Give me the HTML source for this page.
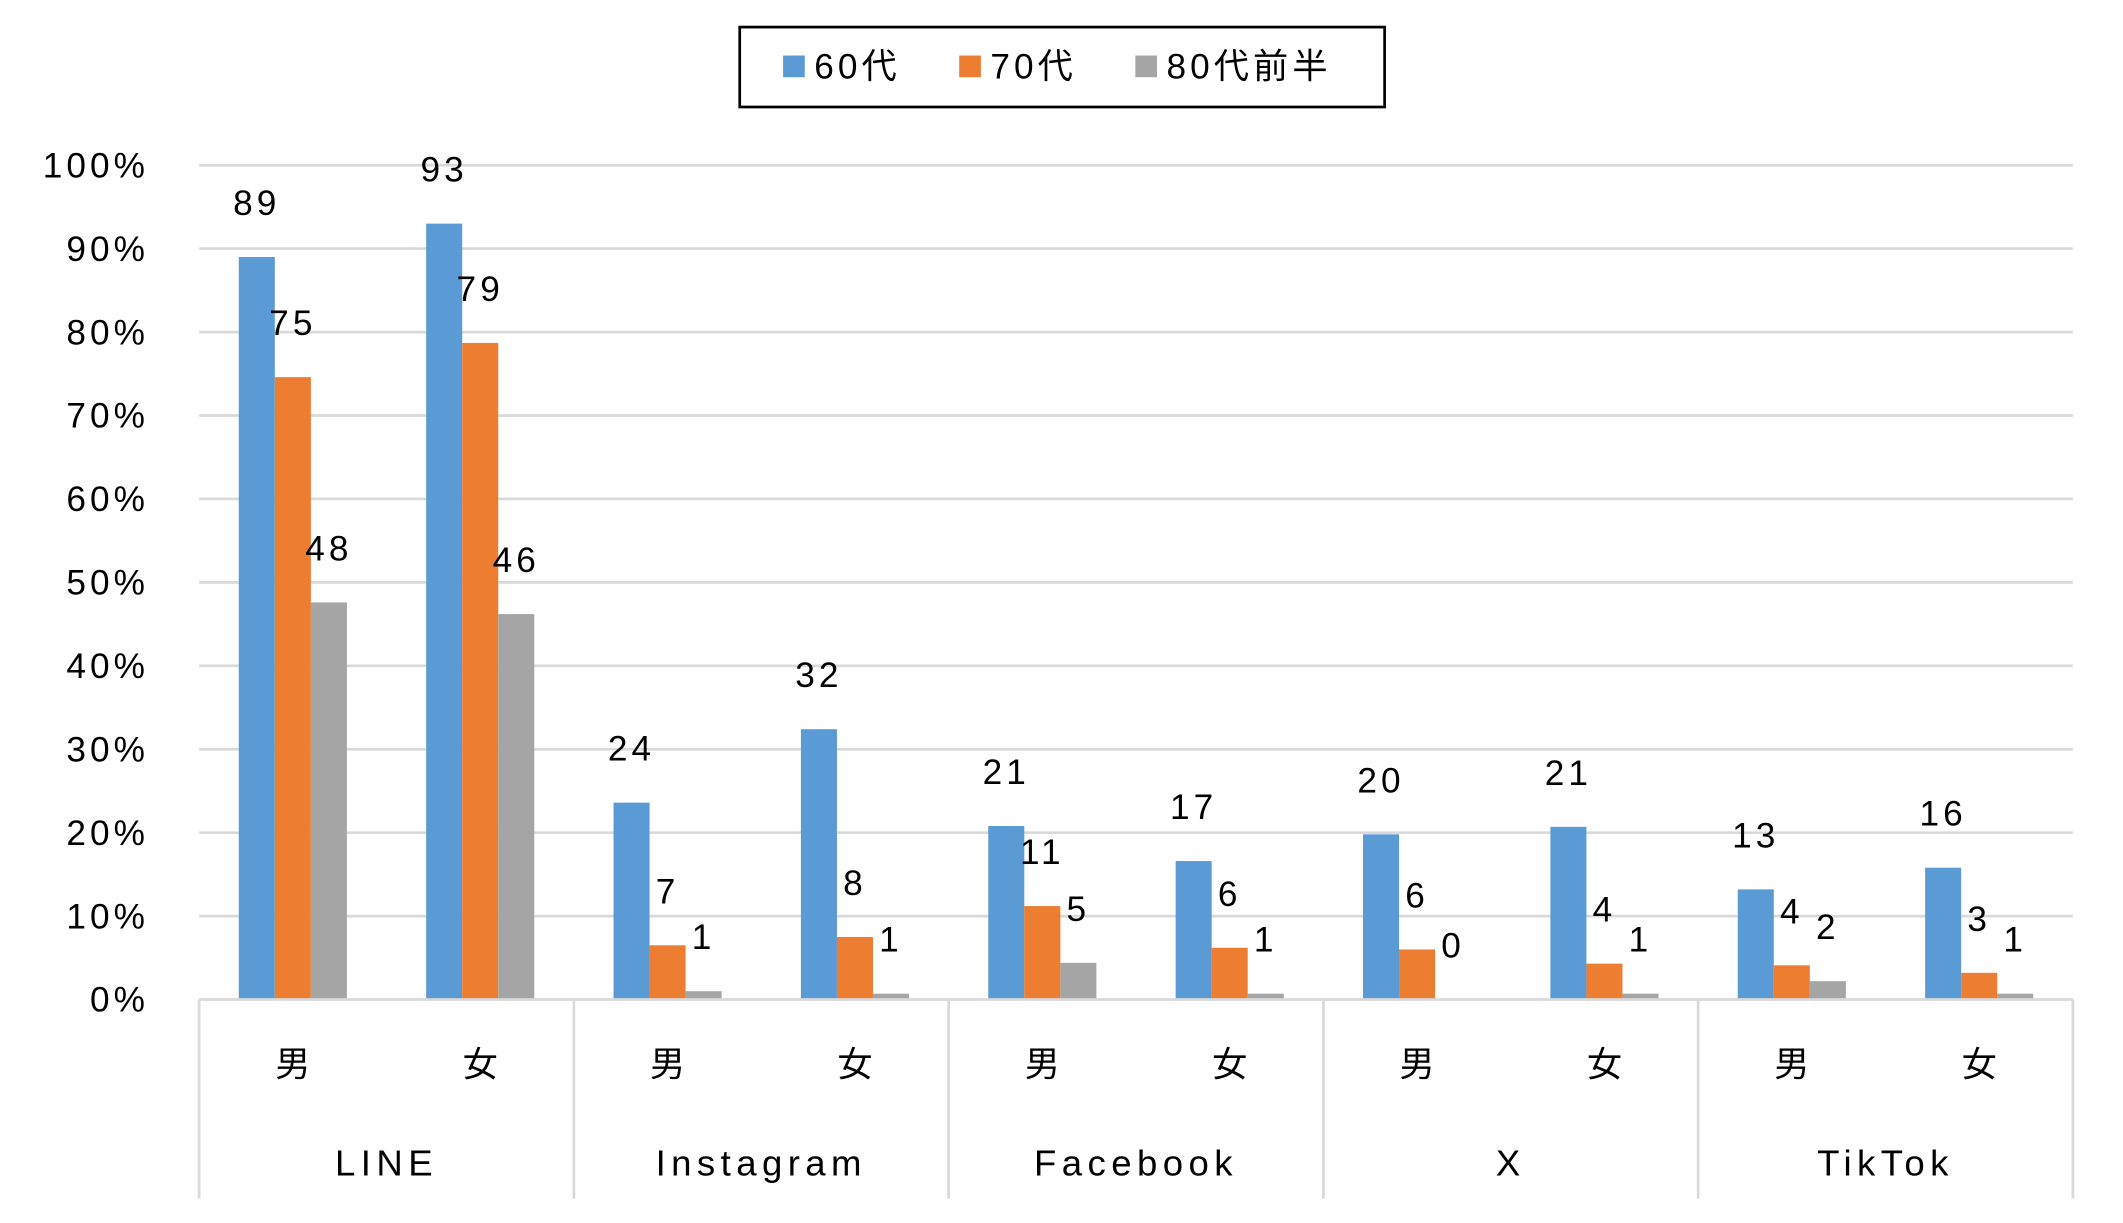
<!DOCTYPE html>
<html><head><meta charset="utf-8"><style>
html,body{margin:0;padding:0;background:#fff;}
svg{display:block;}
text{font-family:"Liberation Sans","Noto Sans CJK JP",sans-serif;fill:#000;}
</style></head><body>
<svg id="chart" width="2123" height="1223" viewBox="0 0 1567 903" preserveAspectRatio="none" xmlns="http://www.w3.org/2000/svg">
<g id="grid"></g>
<g id="bars"></g>
<g id="labels"></g>
<g id="axis"></g>
<g id="yaxis"></g>
<g>
  <rect x="546" y="20" width="476" height="59" fill="#fff" stroke="#000" stroke-width="2"/>
  <rect x="578" y="41" width="16" height="16" fill="#5B9BD5"/>
  <text x="601" y="58" font-size="26" letter-spacing="3">60代</text>
  <rect x="708" y="41" width="16" height="16" fill="#ED7D31"/>
  <text x="731" y="58" font-size="26" letter-spacing="3">70代</text>
  <rect x="838" y="41" width="16" height="16" fill="#A5A5A5"/>
  <text x="861" y="58" font-size="26" letter-spacing="3">80代前半</text>
</g>
</svg>
<script>
const groups = ["LINE","Instagram","Facebook","X","TikTok"];
const genders = ["男","女"];
const s60 = [89,93,23.6,32.4,20.8,16.6,19.8,20.7,13.2,15.8];
const s70 = [74.6,78.7,6.5,7.5,11.2,6.2,6.0,4.3,4.1,3.2];
const s80 = [47.6,46.2,1.0,0.7,4.4,0.7,0,0.7,2.2,0.7];
const lab60 = ["89","93","24","32","21","17","20","21","13","16"];
const lab70 = ["75","79","7","8","11","6","6","4","4","3"];
const lab80 = ["48","46","1","1","5","1","0","1","2","1"];
const yTicks = [0,10,20,30,40,50,60,70,80,90,100];

const NS="http://www.w3.org/2000/svg";
const X0=147, X1=1530, Y0=738, Y100=122;
const nCat=s60.length, catW=(X1-X0)/nCat, barW=26.6;
const y=v=>Y0-(Y0-Y100)*v/100;
function mk(tag,attrs,parent){const e=document.createElementNS(NS,tag);for(const k in attrs)e.setAttribute(k,attrs[k]);parent.appendChild(e);return e;}
const G=id=>document.getElementById(id);

yTicks.forEach(t=>{
  if(t>0){const l=mk('line',{x1:X0,x2:X1,y1:y(t),y2:y(t),stroke:'#D9D9D9','stroke-width':2},G('grid'));
  
  }
  const tx=mk('text',{x:110,y:y(t)+9,'font-size':26,'text-anchor':'end','letter-spacing':3},G('yaxis'));
  tx.textContent=t+'%';
  
  
});

const series=[[s60,lab60,'#5B9BD5','60s'],[s70,lab70,'#ED7D31','70s'],[s80,lab80,'#A5A5A5','80s']];
for(let i=0;i<nCat;i++){
  const start=X0+i*catW+(catW-3*barW)/2;
  series.forEach((s,j)=>{
    const v=s[0][i], bx=start+j*barW;
    const r=mk('rect',{x:bx,y:y(v),width:barW,height:Y0-y(v),fill:s[2]},G('bars'));
    
    
    const t=mk('text',{x:bx+barW/2,y:y(v)-31,'font-size':26,'text-anchor':'middle','letter-spacing':3},G('labels'));
    t.textContent=s[1][i];
    
    
  });
  const g=mk('text',{x:X0+(i+0.5)*catW,y:795,'font-size':26,'text-anchor':'middle'},G('axis'));
  g.textContent=genders[i%2];
  
  
}
const ax=mk('line',{x1:X0,x2:X1,y1:Y0,y2:Y0,stroke:'#D9D9D9','stroke-width':2},G('axis'));


for(let k=0;k<=groups.length;k++){
  const gx=X0+k*2*catW;
  const l=mk('line',{x1:gx,x2:gx,y1:Y0,y2:885,stroke:'#D9D9D9','stroke-width':2},G('axis'));
  
  
  if(k<groups.length){
    const t=mk('text',{x:gx+catW,y:868,'font-size':27,'text-anchor':'middle','letter-spacing':4},G('axis'));
    t.textContent=groups[k];
    
    
  }
}
</script>
</body></html>
